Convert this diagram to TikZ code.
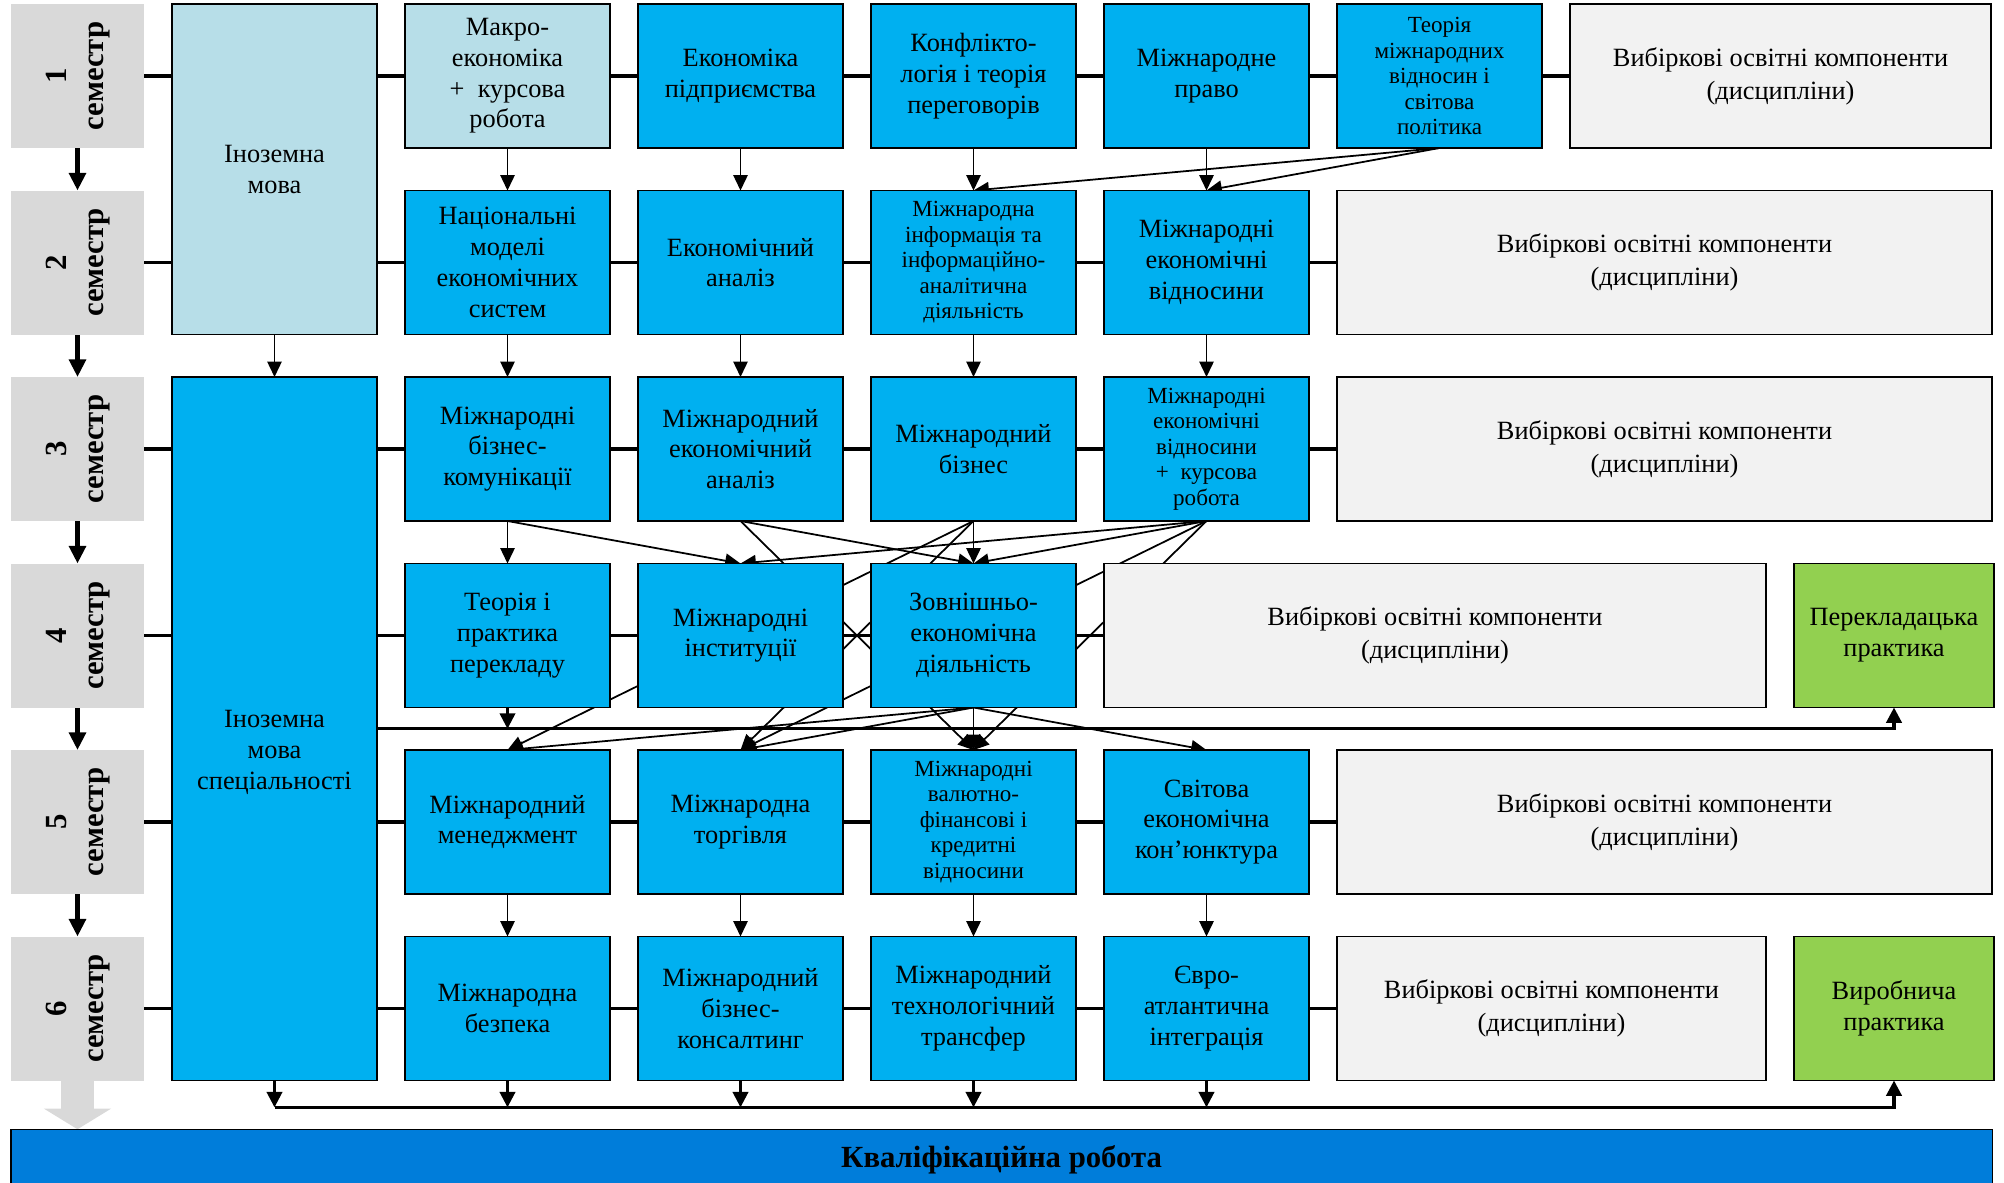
\documentclass[tikz,border=0pt]{standalone}
\usepackage{fontspec}
\setmainfont{Liberation Serif}
\usepackage{tikz}
\usetikzlibrary{positioning,calc,backgrounds,arrows.meta}

\definecolor{semgray}{RGB}{217,217,217}
\definecolor{paleblue}{RGB}{183,222,232}
\definecolor{skyblue}{RGB}{0,176,240}
\definecolor{electgray}{RGB}{242,242,242}
\definecolor{pracgreen}{RGB}{146,208,80}
\definecolor{finalblue}{RGB}{0,125,218}

\newcommand{\semlabel}[1]{\rotatebox{90}{\begin{tabular}{@{}c@{}}#1\\семестр\end{tabular}}}

\tikzset{box/.style={draw, line width=0.7pt, outer sep=0pt, minimum width=3.28cm, minimum height=2.304cm, align=center, inner sep=2pt, font=\fontsize{12}{14}\selectfont},
  block/.style={box, fill=skyblue}, pale/.style={box, fill=paleblue},
  smalltext/.style={font=\fontsize{10.5}{11.6}\selectfont},
  elect/.style={box, fill=electgray, font=\fontsize{12}{15}\selectfont},
  practice/.style={box, fill=pracgreen, minimum width=3.2cm},
  sem/.style={fill=semgray, outer sep=0pt, minimum width=2.128cm, minimum height=2.304cm, inner sep=0pt, font=\fontsize{14}{17}\selectfont\bfseries},
  final/.style={draw, line width=0.6pt, outer sep=0pt, fill=finalblue, minimum width=31.7cm, minimum height=0.96cm, font=\fontsize{14}{17}\selectfont\bfseries},
  line/.style={line width=0.8pt, -{Triangle[length=7pt,width=6.5pt]}},
  semline/.style={line width=2pt, -{Triangle[length=8pt,width=7.5pt]}},
  rowline/.style={line width=1.4pt},
  busline/.style={line width=1.4pt, -{Triangle[length=7pt,width=7pt]}},
  drop/.style={line width=1.2pt, -{Triangle[length=7pt,width=7pt]}},
  bigdown/.style={semgray, line width=0.54cm, -{Triangle[length=0.33cm,width=1.06cm]}}}

\begin{document}
\begin{tikzpicture}[node distance=0.68cm and 0.448cm]
    \useasboundingbox (0,0) rectangle (32.064,-18.912);

    % semesters
    \node[sem] (s1) at (1.24,-1.216) {\semlabel{1}};
    \node[sem,below=of s1] (s2) {\semlabel{2}};
    \node[sem,below=of s2] (s3) {\semlabel{3}};
    \node[sem,below=of s3] (s4) {\semlabel{4}};
    \node[sem,below=of s4] (s5) {\semlabel{5}};
    \node[sem,below=of s5] (s6) {\semlabel{6}};

    \node[pale,right=of s1.north east,anchor=north west,minimum height=5.288cm] (fl) {Іноземна\\мова};
    \node[block,right=of s3.north east,anchor=north west,minimum height=11.256cm] (fls) {\mbox{}\\[0.54cm]Іноземна\\мова\\спеціальності};

    % 1 semester
    \node[pale,right=of fl.north east,anchor=north west] (mac) {Макро-\\економіка\\+\ \ курсова\\робота};
    \node[block,right=of mac] (ep)  {Економіка\\підприємства};
    \node[block,right=of ep]  (kon) {Конфлікто-\\логія і теорія\\переговорів};
    \node[block,right=of kon] (ml)  {Міжнародне\\право};
    \node[block,smalltext,right=of ml] (tmv) {Теорія\\міжнародних\\відносин і\\світова\\політика};
    \node[elect,right=of tmv,minimum width=6.736cm] (v1) {Вибіркові освітні компоненти\\(дисципліни)};

    % 2 semester
    \node[block,below=of mac] (nm)  {Національні\\моделі\\економічних\\систем};
    \node[block,below=of ep]  (ea)  {Економічний\\аналіз};
    \node[block,smalltext,below=of kon] (mi) {Міжнародна\\інформація та\\інформаційно-\\аналітична\\діяльність};
    \node[block,below=of ml]  (mev) {Міжнародні\\економічні\\відносини};
    \node[elect,right=of mev,minimum width=10.48cm] (v2) {Вибіркові освітні компоненти\\(дисципліни)};

    % 3 semester
    \node[block,below=of nm]  (mbk) {Міжнародні\\бізнес-\\комунікації};
    \node[block,below=of ea]  (mea) {Міжнародний\\економічний\\аналіз};
    \node[block,below=of mi]  (mb)  {Міжнародний\\бізнес};
    \node[block,smalltext,below=of mev] (mevk) {Міжнародні\\економічні\\відносини\\+\ \ курсова\\робота};
    \node[elect,right=of mevk,minimum width=10.48cm] (v3) {Вибіркові освітні компоненти\\(дисципліни)};

    % 4 semester
    \node[block,below=of mbk] (tpp)  {Теорія і\\практика\\перекладу};
    \node[block,below=of mea] (mins) {Міжнародні\\інституції};
    \node[block,below=of mb]  (zed)  {Зовнішньо-\\економічна\\діяльність};
    \node[elect,right=of zed,minimum width=10.592cm] (v4) {Вибіркові освітні компоненти\\(дисципліни)};
    \node[practice,right=of v4] (pk) {Перекладацька\\практика};

    % 5 semester
    \node[block,below=of tpp]  (mm)   {Міжнародний\\менеджмент};
    \node[block,below=of mins] (mt)   {Міжнародна\\торгівля};
    \node[block,smalltext,below=of zed] (mvf) {Міжнародні\\валютно-\\фінансові і\\кредитні\\відносини};
    \node[block,right=of mvf]  (svit) {Світова\\економічна\\кон’юнктура};
    \node[elect,right=of svit,minimum width=10.48cm] (v5) {Вибіркові освітні компоненти\\(дисципліни)};

    % 6 semester
    \node[block,below=of mm]  (mbz) {Міжнародна\\безпека};
    \node[block,below=of mt]  (mbc) {Міжнародний\\бізнес-\\консалтинг};
    \node[block,below=of mvf] (mtt) {Міжнародний\\технологічний\\трансфер};
    \node[block,right=of mtt] (eai) {Євро-\\атлантична\\інтеграція};
    \node[elect,right=of eai,minimum width=6.864cm] (v6) {Вибіркові освітні компоненти\\(дисципліни)};
    \node[practice,right=of v6] (vp) {Виробнича\\практика};

    \node[final,below=0.78cm of s6.south west,anchor=north west] (qw) {Кваліфікаційна робота};

    \begin{scope}[on background layer]
    \foreach \a/\b in {s1/v1,s2/v2,s3/v3,s4/v4,s5/v5,s6/v6}
        \draw[rowline] (\a) -- (\b);
    \foreach \a/\b in {s1/s2,s2/s3,s3/s4,s4/s5,s5/s6}
        \draw[semline] (\a) -- (\b);
    \draw[bigdown] (s6) -- (s6 |- qw.north);

    \foreach \a/\b in {fl/fls,mac/nm,nm/mbk,mbk/tpp,mm/mbz,ep/ea,ea/mea,mt/mbc,kon/mi,mi/mb,mb/zed,zed/mvf,mvf/mtt,ml/mev,mev/mevk,svit/eai}
        \draw[line] (\a) -- (\b);
    \foreach \a/\b in {tmv/mi,tmv/mev,mbk/mins,mea/zed,mea/mvf,mb/mt,mb/mm,mevk/mins,mevk/zed,mevk/mt,mevk/mvf,zed/mm,zed/mt,zed/svit}
        \draw[line] (\a.south) -- (\b.north);

    % practice lines
    \path (tpp.south) -- (mm.north) coordinate[midway] (b1);
    \draw[drop] (tpp) -- (tpp |- b1);
    \draw[busline] (fls.east |- b1) -| (pk);
    \path (fls.south) -- (fls.south |- qw.north) coordinate[pos=0.55] (b2);
    \draw[busline] (b2) -| (vp);
    \foreach \a in {fls,mbz,mbc,mtt,eai}
        \draw[drop] (\a) -- (\a |- b2);
    \end{scope}
\end{tikzpicture}
\end{document}
